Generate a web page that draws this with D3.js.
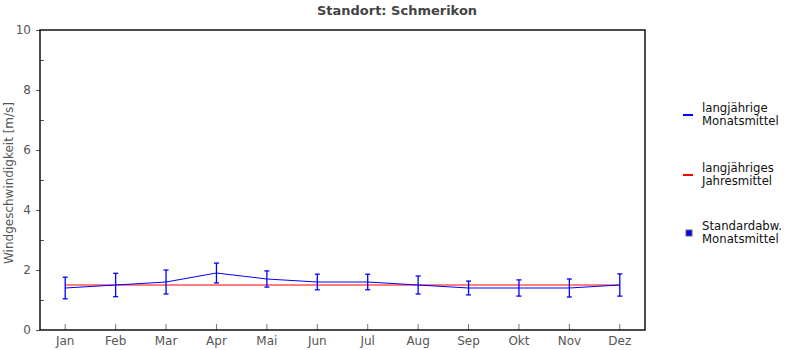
<!DOCTYPE html>
<html><head><meta charset="utf-8">
<script src="https://cdn.jsdelivr.net/npm/d3@7"></script>
<style>body{margin:0;background:#fff}svg{display:block;font-family:"DejaVu Sans",sans-serif}</style>
</head><body><svg id="c" width="795" height="350"></svg>
<script>
const months = ["Jan","Feb","Mar","Apr","Mai","Jun","Jul","Aug","Sep","Okt","Nov","Dez"];
const monthlyMean = [1.4,1.5,1.6,1.9,1.7,1.6,1.6,1.5,1.4,1.4,1.4,1.5];
const monthlyStd = [0.36,0.39,0.4,0.33,0.27,0.26,0.26,0.3,0.23,0.27,0.3,0.37];
const annualMean = 1.5;
const yMajorTicks = [0,2,4,6,8,10];
const yMinorTicks = [1,3,5,7,9];
const title = "Standort: Schmerikon";
const yLabel = "Windgeschwindigkeit [m/s]";
const legendItems = [
  {lines:["langjährige","Monatsmittel"], type:"line", color:"#0000ff"},
  {lines:["langjähriges","Jahresmittel"], type:"line", color:"#ff0000"},
  {lines:["Standardabw.","Monatsmittel"], type:"box", color:"#0000ff"}
];

const svg = d3.select("#c");
const L=40, R=645, T=30, B=330;
const x = d3.scaleBand().domain(months).range([L,R]);
const cx = m => x(m)+x.bandwidth()/2;
const y = d3.scaleLinear().domain([0,10]).range([B,T]);

// title
svg.append("text").attr("x",397).attr("y",15).attr("text-anchor","middle")
  .attr("font-size",13).attr("font-weight","bold").attr("fill","#444").text(title);

// y axis label
svg.append("text").attr("transform","translate(13,183) rotate(-90)").attr("text-anchor","middle")
  .attr("font-size",12).attr("fill","#555").text(yLabel);

// y major ticks (outside)
const yAx = d3.axisLeft(y).tickValues(yMajorTicks).tickSize(4).tickPadding(5).tickFormat(d3.format("d"));
const gy = svg.append("g").attr("transform",`translate(${L},0)`).call(yAx);
gy.select(".domain").remove();
gy.selectAll("line").attr("stroke","#555");
gy.selectAll("text").attr("font-size",12).attr("fill","#555").attr("font-family","DejaVu Sans");
// y minor ticks (inside)
const gym = svg.append("g").attr("transform",`translate(${L},0)`)
  .call(d3.axisRight(y).tickValues(yMinorTicks).tickSize(4).tickFormat(""));
gym.select(".domain").remove();
gym.selectAll("line").attr("stroke","#555");

// x ticks inside, labels below
const gx = svg.append("g").attr("transform",`translate(0,${B})`)
  .call(d3.axisBottom(x).tickSizeInner(-6).tickSizeOuter(0).tickPadding(6.5));
gx.select(".domain").remove();
gx.selectAll("line").attr("stroke","#777");
gx.selectAll("text").attr("font-size",12).attr("fill","#555").attr("font-family","DejaVu Sans");

// frame
svg.append("rect").attr("x",L).attr("y",T).attr("width",R-L).attr("height",B-T)
  .attr("fill","none").attr("stroke","#000").attr("stroke-width",1.4);

// annual mean line
svg.append("line").attr("x1",cx(months[0])).attr("x2",cx(months[months.length-1]))
  .attr("y1",y(annualMean)).attr("y2",y(annualMean))
  .attr("stroke","#ff0000").attr("stroke-width",1);

// monthly mean line
svg.append("path").datum(monthlyMean)
  .attr("d",d3.line().x((d,i)=>cx(months[i])).y(d=>y(d)))
  .attr("fill","none").attr("stroke","#0000ff").attr("stroke-width",1);

// error bars
const eb = svg.append("g").attr("stroke","#0000ff").attr("stroke-width",1.3);
monthlyMean.forEach((m,i)=>{
  const xc = cx(months[i]);
  const top = y(m+monthlyStd[i]), bot = y(m-monthlyStd[i]);
  eb.append("line").attr("x1",xc).attr("x2",xc).attr("y1",top).attr("y2",bot);
  eb.append("line").attr("x1",xc-2.5).attr("x2",xc+2.5).attr("y1",top).attr("y2",top);
  eb.append("line").attr("x1",xc-2.5).attr("x2",xc+2.5).attr("y1",bot).attr("y2",bot);
});

// legend
const legY = [115,175,233];
legendItems.forEach((it,i)=>{
  const yy = legY[i];
  if(it.type==="line"){
    svg.append("line").attr("x1",683).attr("x2",693).attr("y1",yy).attr("y2",yy)
      .attr("stroke",it.color).attr("stroke-width",2);
  } else {
    svg.append("rect").attr("x",686).attr("y",yy-3).attr("width",6).attr("height",6)
      .attr("fill",it.color).attr("stroke","#666").attr("stroke-width",1);
  }
  const t = svg.append("text").attr("font-size",11.7).attr("fill","#111");
  it.lines.forEach((ln,j)=>{
    t.append("tspan").attr("x",702).attr("y",yy-3+j*12.5).text(ln);
  });
});
</script></body></html>
